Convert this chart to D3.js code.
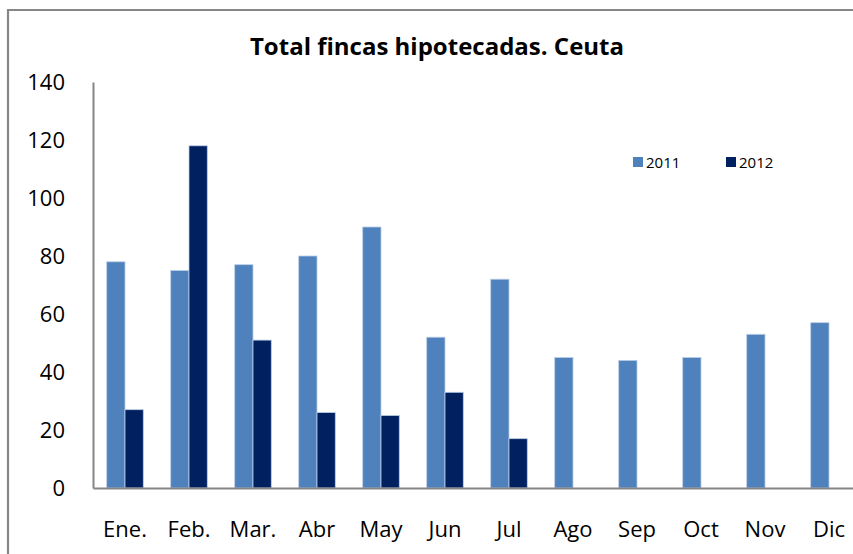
<!DOCTYPE html>
<html>
<head>
<meta charset="utf-8">
<script src="https://cdn.jsdelivr.net/npm/d3@7"></script>
<style>
  body { margin: 0; background: #fff; }
  svg { display: block; font-family: "Open Sans", sans-serif; }
</style>
</head>
<body>
<div id="chart"></div>
<script>
var months = ["Ene.", "Feb.", "Mar.", "Abr", "May", "Jun", "Jul", "Ago", "Sep", "Oct", "Nov", "Dic"];
var series = ["2011", "2012"];
var values2011 = [78, 75, 77, 80, 90, 52, 72, 45, 44, 45, 53, 57];
var values2012 = [27, 118, 51, 26, 25, 33, 17, null, null, null, null, null];
var yTicks = [0, 20, 40, 60, 80, 100, 120, 140];

var width = 853, height = 554;
var margin = {top: 82, left: 93, bottom: 66};
var colors = {"2011": "#4f81bd", "2012": "#002060"};

var svg = d3.select("#chart").append("svg")
    .attr("width", width)
    .attr("height", height);

// outer chart border (cropped on the right and bottom)
svg.append("path")
    .attr("d", "M8,560 L8,10 L860,10")
    .style("fill", "none")
    .style("stroke", "#868686")
    .style("stroke-width", 2.2);

var x = d3.scaleBand()
    .domain(months)
    .range([margin.left, margin.left + 64 * months.length])
    .paddingInner(0)
    .paddingOuter(0);

var x1 = d3.scaleBand()
    .domain(series)
    .range([0, x.bandwidth()])
    .paddingInner(0)
    .paddingOuter(0.75);

var y = d3.scaleLinear()
    .domain([0, 140])
    .range([height - margin.bottom, margin.top]);

var rows = months.map(function(m, i) {
    return {month: m, "2011": values2011[i], "2012": values2012[i]};
});

var groups = svg.selectAll(".grp")
    .data(rows)
    .enter().append("g")
    .attr("class", "grp")
    .attr("transform", function(d) { return "translate(" + x(d.month) + ",0)"; });

groups.selectAll("rect")
    .data(function(d) {
        return series.map(function(s) { return {key: s, value: d[s]}; })
            .filter(function(e) { return e.value != null; });
    })
    .enter().append("rect")
    .attr("x", function(d) { return x1(d.key); })
    .attr("width", x1.bandwidth())
    .attr("y", function(d) { return y(d.value); })
    .attr("height", function(d) { return y(0) - y(d.value); })
    .style("fill", function(d) { return colors[d.key]; })
    .style("stroke", "#b9cde5")
    .style("stroke-width", 0.8);

// y axis
var yAxis = svg.append("g")
    .attr("transform", "translate(" + margin.left + ",0)")
    .call(d3.axisLeft(y).tickValues(yTicks).tickSize(0).tickPadding(28));
yAxis.select(".domain").style("stroke", "#868686").style("stroke-width", 2);
yAxis.selectAll("text")
    .style("font-size", "22px")
    .style("fill", "#000")
    .style("font-family", "'Open Sans', sans-serif");

// x axis
var xAxis = svg.append("g")
    .attr("transform", "translate(0," + y(0) + ")")
    .call(d3.axisBottom(x).tickSize(0).tickPadding(33));
xAxis.select(".domain").style("stroke", "#868686").style("stroke-width", 2);
xAxis.selectAll("text")
    .style("font-size", "22px")
    .style("fill", "#000")
    .style("font-family", "'Open Sans', sans-serif");

// title
svg.append("text")
    .attr("x", 437)
    .attr("y", 55)
    .attr("text-anchor", "middle")
    .style("font-size", "24px")
    .style("font-weight", "bold")
    .text("Total fincas hipotecadas. Ceuta");

// legend
var legend = svg.selectAll(".legend")
    .data(series)
    .enter().append("g")
    .attr("class", "legend")
    .attr("transform", function(d, i) { return "translate(" + (633 + i * 93) + ",157)"; });

legend.append("rect")
    .attr("width", 10)
    .attr("height", 10)
    .style("fill", function(d) { return colors[d]; });

legend.append("text")
    .attr("x", 13)
    .attr("y", 10.5)
    .style("font-size", "15px")
    .text(function(d) { return d; });
</script>
</body>
</html>
